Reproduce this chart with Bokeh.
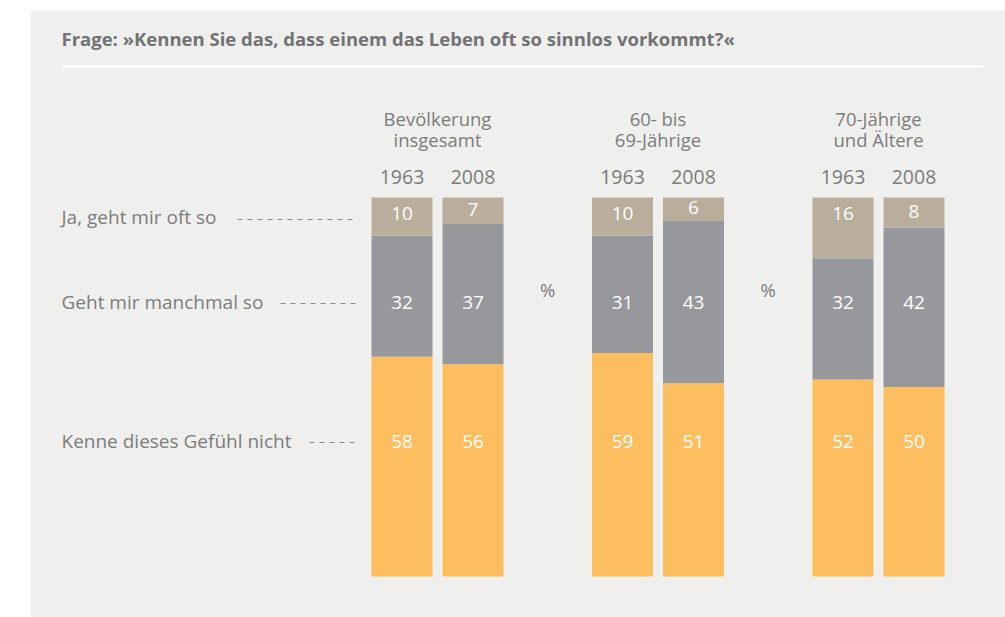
from bokeh.plotting import figure
from bokeh.models import Range1d, ColumnDataSource
from bokeh.core.properties import value
from bokeh.embed import file_html
from bokeh.resources import INLINE

# ---------------- data ----------------
title = "Frage: »Kennen Sie das, dass einem das Leben oft so sinnlos vorkommt?«"
group_line1 = ["Bevölkerung", "60- bis", "70-Jährige"]
group_line2 = ["insgesamt", "69-Jährige", "und Ältere"]
years = ["1963", "2008"]
answers = ["Ja, geht mir oft so", "Geht mir manchmal so", "Kenne dieses Gefühl nicht"]
oft = [10, 7, 10, 6, 16, 8]
manchmal = [32, 37, 31, 43, 32, 42]
nicht = [58, 56, 59, 51, 52, 50]
unit = "%"

# ---------------- layout ----------------
W, H = 1005, 617
PX_PER_PCT = 3.79
BASE_PX = 576          # page y of 0 %
def py(ypx):
    return (BASE_PX - ypx) / PX_PER_PCT

X0, GSTEP, BSTEP, BW = 401.5, 220.5, 71, 61
FONT = value("Open Sans")
TXT = "#7c7c7e"
TAN, GRAY, YELLOW = "#b9ae9c", "#97989c", "#fdbe5f"
BG = "#efefed"

p = figure(width=W, height=H, x_range=Range1d(30, 1005), y_range=Range1d(py(617), py(10)),
           output_backend="svg", toolbar_location=None,
           x_axis_location=None, y_axis_location=None,
           min_border_left=30, min_border_right=0, min_border_top=10, min_border_bottom=0)
p.grid.visible = False
p.outline_line_color = None
p.background_fill_color = BG
p.border_fill_color = "white"

xs = [X0 + g * GSTEP + j * BSTEP for g in range(3) for j in range(2)]
src = ColumnDataSource(dict(x=xs, nicht=nicht, manchmal=manchmal, oft=oft))
p.vbar_stack(["nicht", "manchmal", "oft"], x="x", width=BW, color=[YELLOW, GRAY, TAN],
             line_color=None, source=src)

# value labels
ROW_TOP, ROW_MID, ROW_BOT = py(213), py(302), py(441)
lx, ly, lt = [], [], []
for i, x in enumerate(xs):
    lx += [x, x, x]
    ly += [max(nicht[i] + manchmal[i] + oft[i] / 2 + 0.3, ROW_TOP), ROW_MID, ROW_BOT]
    lt += [str(oft[i]), str(manchmal[i]), str(nicht[i])]
p.text(x=lx, y=ly, text=lt, text_align="center", text_baseline="middle",
       text_color="white", text_font=FONT, text_font_size="19px")

# group headings and years
gx = [X0 + g * GSTEP + BSTEP / 2 for g in range(3)]
p.text(x=gx, y=[py(118)] * 3, text=group_line1, text_align="center", text_baseline="middle",
       text_color=TXT, text_font=FONT, text_font_size="18.5px")
p.text(x=gx, y=[py(139)] * 3, text=group_line2, text_align="center", text_baseline="middle",
       text_color=TXT, text_font=FONT, text_font_size="18.5px")
p.text(x=xs, y=[py(176)] * 6, text=years * 3, text_align="center", text_baseline="middle",
       text_color=TXT, text_font=FONT, text_font_size="19.5px")

# percent signs between groups
px_ = [(X0 + g * GSTEP + BSTEP + BW / 2 + X0 + (g + 1) * GSTEP - BW / 2) / 2 for g in range(2)]
p.text(x=px_, y=[py(289)] * 2, text=[unit] * 2, text_align="center", text_baseline="middle",
       text_color=TXT, text_font=FONT, text_font_size="18.5px")

# row labels with dashed leaders
rows_y = [py(216), py(301), py(440)]
dash_y = [py(219), py(303), py(442)]
p.text(x=[61] * 3, y=rows_y, text=answers, text_align="left", text_baseline="middle",
       text_color=TXT, text_font=FONT, text_font_size="19px")
p.segment(x0=[237, 280, 309], y0=dash_y, x1=[355] * 3, y1=dash_y,
          line_color="#8a8a8c", line_width=1, line_dash="5 5")

# title and rule
p.text(x=[61], y=[py(38)], text=[title], text_align="left", text_baseline="middle",
       text_color="#737376", text_font=FONT, text_font_size="18.5px", text_font_style="bold")
p.segment(x0=[61], y0=[py(66)], x1=[983], y1=[py(66)], line_color="white", line_width=2)

open("out.html", "w").write(file_html(p, INLINE))
